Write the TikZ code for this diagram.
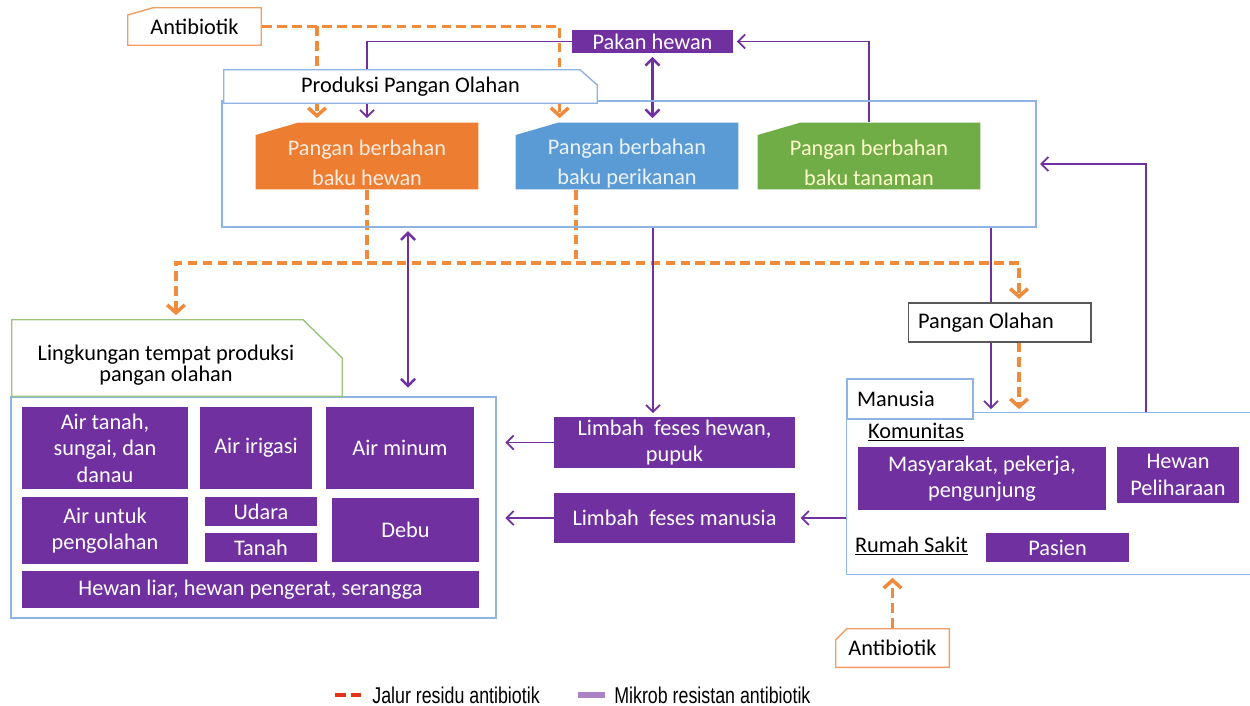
\documentclass[tikz,border=0pt]{standalone}
\usepackage{fontspec}
\setmainfont{Carlito}
\newfontfamily\legendfont{Liberation Sans}
\usetikzlibrary{arrows.meta, backgrounds}
\definecolor{ungu}{HTML}{7030A0}
\definecolor{oranye}{HTML}{ED7D31}
\definecolor{biru}{HTML}{5B9BD5}
\definecolor{hijau}{HTML}{70AD47}
\definecolor{bingkai}{HTML}{8EB4E3}
\definecolor{garis}{HTML}{F08A3C}
\definecolor{abu}{HTML}{595959}
\tikzset{
  potKiri/.style n args={4}{fill=white, path picture={
    \filldraw[fill=#3, draw=#4, line width=0.8pt]
      ([shift={(0.4pt,-#2)}]path picture bounding box.north west)
      -- ([shift={(#1,-0.4pt)}]path picture bounding box.north west)
      -- ([shift={(-0.4pt,-0.4pt)}]path picture bounding box.north east)
      -- ([shift={(-0.4pt,0.4pt)}]path picture bounding box.south east)
      -- ([shift={(0.4pt,0.4pt)}]path picture bounding box.south west) -- cycle;}},
  potKanan/.style n args={4}{fill=white, path picture={
    \filldraw[fill=#3, draw=#4, line width=0.8pt]
      ([shift={(0.4pt,-0.4pt)}]path picture bounding box.north west)
      -- ([shift={(-#1,-0.4pt)}]path picture bounding box.north east)
      -- ([shift={(-0.4pt,-#2)}]path picture bounding box.north east)
      -- ([shift={(-0.4pt,0.4pt)}]path picture bounding box.south east)
      -- ([shift={(0.4pt,0.4pt)}]path picture bounding box.south west) -- cycle;}},
}
\tikzstyle{teks} = [font=\fontsize{12.7}{15}\selectfont, inner sep=1pt, align=center]
\tikzstyle{isi} = [teks, rectangle, fill=ungu, text=white]
\tikzstyle{bahan} = [teks, rectangle, font=\fontsize{12.7}{17}\selectfont, minimum width=4.48cm, minimum height=1.36cm]
\tikzstyle{frame} = [draw=bingkai, line width=0.8pt]
\tikzstyle{resid} = [draw=garis, line width=2pt, dash pattern=on 5.5pt off 3pt, >={Straight Barb[length=4.5pt,width=10pt]}, shorten >=2pt]
\tikzstyle{mikrob} = [draw=ungu, line width=1pt, >={Straight Barb[length=4pt,width=8pt]}, shorten >=2pt]
\tikzstyle{legenda} = [font=\legendfont\fontsize{13}{15}\selectfont, inner sep=0pt]

\begin{document}
\begin{tikzpicture}[x=0.02cm, y=-0.02cm]
    \useasboundingbox (0,0) rectangle (1250,706);
    \node (anti1) [teks, potKiri={0.52cm}{0.16cm}{white}{oranye!75}, minimum width=2.7cm, minimum height=0.78cm] at (194.5,26.5) {Antibiotik};
    \node (pakan) [isi, minimum width=3.22cm, minimum height=0.46cm] at (652.5,41.5) {Pakan hewan};
    \node (prod) [frame, minimum width=16.28cm, minimum height=2.52cm] at (629,164) {};
    \node (prodtab) [teks, potKanan={0.36cm}{0.32cm}{white}{bingkai}, minimum width=7.5cm, minimum height=0.7cm] at (410.5,86.5) {Produksi Pangan Olahan};
    \node (hewan) [bahan, potKiri={0.86cm}{0.26cm}{oranye}{none}, text=oranye!15] at (367,156) {\rule{0pt}{17pt}Pangan berbahan\\baku hewan};
    \node (ikan) [bahan, potKiri={0.86cm}{0.26cm}{biru}{none}, text=biru!12] at (627,156) {\rule{0pt}{17pt}Pangan berbahan\\baku perikanan};
    \node (tanam) [bahan, potKiri={0.86cm}{0.26cm}{hijau}{none}, text=yellow!20] at (869,156) {\rule{0pt}{17pt}Pangan berbahan\\baku tanaman};

    \node (lingbox) [frame, minimum width=9.7cm, minimum height=4.42cm] at (253.5,507.5) {};
    \node (lingtab) [teks, potKanan={0.8cm}{0.78cm}{white}{hijau!70}, font=\fontsize{12.7}{11}\selectfont, minimum width=6.64cm, minimum height=1.56cm] at (177,358) {\rule{0pt}{17pt}Lingkungan tempat produksi\hspace*{0.44cm}\\pangan olahan\hspace*{0.44cm}};
    \node (airtanah) [isi, minimum width=3.32cm, minimum height=1.64cm] at (105,448) {Air tanah,\\sungai, dan\\danau};
    \node (irigasi) [isi, minimum width=2.24cm, minimum height=1.64cm] at (256,448) {Air irigasi};
    \node (minum) [isi, minimum width=2.96cm, minimum height=1.64cm] at (400,448) {Air minum};
    \node (olah) [isi, minimum width=3.32cm, minimum height=1.34cm] at (105,530.5) {Air untuk\\pengolahan};
    \node (udara) [isi, minimum width=2.24cm, minimum height=0.58cm] at (261,511.5) {Udara};
    \node (tanah) [isi, minimum width=2.24cm, minimum height=0.58cm] at (261,547.5) {Tanah};
    \node (debu) [isi, minimum width=2.94cm, minimum height=1.28cm] at (405.5,530) {Debu};
    \node (liar) [isi, minimum width=9.14cm, minimum height=0.74cm] at (250.5,589.5) {Hewan liar, hewan pengerat, serangga};

    \node (limhewan) [isi, minimum width=4.82cm, minimum height=1.02cm] at (674.5,442.5) {Limbah\ \ feses hewan,\\pupuk};
    \node (limmanusia) [isi, minimum width=4.82cm, minimum height=1cm] at (674.5,518) {Limbah\ \ feses manusia};

    \node (olahan) [teks, draw=abu, fill=white, line width=0.6pt, text width=3.26cm, inner xsep=0.2cm, align=flush left, minimum height=0.78cm] at (999.5,322.5) {Pangan Olahan};
    \node (manbox) [inner sep=0pt, minimum width=8.06cm, minimum height=3.22cm] at (1048.5,493.5) {};
    \draw [frame] (manbox.north east) -| (manbox.south west) -- (manbox.south east);
    \node (mantab) [teks, draw=bingkai, line width=0.8pt, fill=white, text width=2.12cm, inner xsep=0.2cm, align=flush left, minimum height=0.8cm] at (910,399) {Manusia};
    \node (komunitas) [teks, anchor=base west] at (866,438) {\underline{Komunitas}};
    \node (masy) [isi, minimum width=4.96cm, minimum height=1.26cm] at (982,478.5) {Masyarakat, pekerja,\\pengunjung};
    \node (peli) [isi, minimum width=2.44cm, minimum height=1.12cm] at (1178,475) {Hewan\\Peliharaan};
    \node (rs) [teks, anchor=base west] at (853,552) {\underline{Rumah Sakit}};
    \node (pasien) [isi, minimum width=2.86cm, minimum height=0.58cm] at (1057.5,547.5) {Pasien};
    \node (anti2) [teks, potKiri={0.24cm}{0.24cm}{white}{oranye!75}, minimum width=2.3cm, minimum height=0.8cm] at (892.5,648) {Antibiotik};

    \node (legResid) [legenda, anchor=west] at (372,695) {\scalebox{0.78}[1]{Jalur residu antibiotik}};
    \node (legMikrob) [legenda, anchor=west] at (614,695) {\scalebox{0.78}[1]{Mikrob resistan antibiotik}};

    \coordinate (jAnti) at (317,26.5);
    \coordinate (dIkan) at (576,190);
    \coordinate (jKiri) at (176,263);
    \coordinate (jKanan) at (1019,263);
    \coordinate (kDua) at (408,227);
    \coordinate (kLimbah) at (653,227);
    \coordinate (kOlah) at (991,227);
    \coordinate (kPet) at (1146,413);

    \begin{scope}[on background layer]
    \draw [resid,->] (anti1.east) -| ([xshift=0.9cm]ikan.north west);
    \draw [resid,->] (jAnti) -- (jAnti |- hewan.north);
    \draw [resid] (hewan.south) -- (hewan.south |- jKiri);
    \draw [resid] (dIkan) -- (dIkan |- jKiri);
    \draw [resid,<->, shorten <=2pt] (jKiri |- lingtab.north) -- (jKiri) -- (jKanan) -- (jKanan |- olahan.north);
    \draw [resid,->] (jKanan |- olahan.south) -- (jKanan |- manbox.north);
    \draw [resid,->] (anti2.north) -- (anti2.north |- manbox.south);

    \draw [mikrob,->] (pakan.west) -| (hewan.north);
    \draw [mikrob,<->, line width=1.4pt, shorten <=2pt] (pakan.south) -- (pakan.south |- ikan.north);
    \draw [mikrob,->] (tanam.north) |- (pakan.east);
    \draw [mikrob,->] (kPet) |- (prod.east);
    \draw [mikrob,<->, line width=1.4pt, shorten <=2pt, shorten >=5pt] (kDua |- prod.south) -- (kDua |- lingbox.north);
    \draw [mikrob,->] (kLimbah |- prod.south) -- (kLimbah |- limhewan.north);
    \draw [mikrob,->] (kOlah |- prod.south) -- (kOlah |- manbox.north);
    \draw [mikrob,->, shorten >=5pt] (limhewan.west) -- (limhewan.west -| lingbox.east);
    \draw [mikrob,->, shorten >=5pt] (limmanusia.west) -- (limmanusia.west -| lingbox.east);
    \draw [mikrob,->, shorten >=3pt] (limmanusia.east -| manbox.west) -- (limmanusia.east);
    \end{scope}

    \draw [draw=red!60!brown, line width=2.2pt, dash pattern=on 6pt off 3pt] ([xshift=-0.74cm]legResid.west) -- ([xshift=-0.22cm]legResid.west);
    \draw [draw=ungu!60, line width=3pt] ([xshift=-0.72cm]legMikrob.west) -- ([xshift=-0.18cm]legMikrob.west);
\end{tikzpicture}
\end{document}
